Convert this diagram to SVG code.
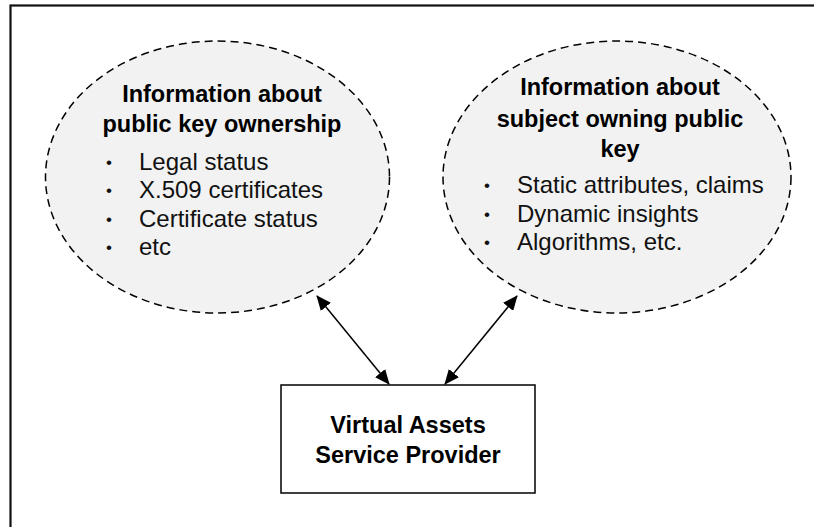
<svg xmlns="http://www.w3.org/2000/svg" width="814" height="527" viewBox="0 0 814 527">
<style>
.bold{font-family:"Liberation Sans",Arial,sans-serif;font-weight:bold;font-size:23.5px;fill:#000;text-anchor:middle}
.reg{font-family:"Liberation Sans",Arial,sans-serif;font-size:24px;fill:#111}
.bul{font-family:"Liberation Sans",Arial,sans-serif;font-size:17px;fill:#111}
.cloud{fill:#f2f2f2;stroke:#000;stroke-width:1.5;stroke-dasharray:8,5}
</style>
<defs>
<marker id="ah" viewBox="0 0 15 13" refX="14" refY="6.5" markerWidth="15" markerHeight="13" markerUnits="userSpaceOnUse" orient="auto-start-reverse">
<path d="M0,0 L15,6.5 L0,13 z" fill="#000"/>
</marker>
</defs>
<rect x="0" y="0" width="814" height="527" fill="#fff"/>
<rect id="frame" x="10.5" y="5.5" width="820" height="540" fill="none" stroke="#111" stroke-width="2.2"/>
<g id="ownership">
<ellipse class="cloud" cx="217.5" cy="177" rx="172" ry="136"/>
<text class="bold" x="222" y="102">Information about</text>
<text class="bold" x="222" y="132">public key ownership</text>
<text class="bul" x="106" y="168">•</text><text class="reg" x="139" y="170">Legal status</text>
<text class="bul" x="106" y="196">•</text><text class="reg" x="139" y="198">X.509 certificates</text>
<text class="bul" x="106" y="225">•</text><text class="reg" x="139" y="227">Certificate status</text>
<text class="bul" x="106" y="253">•</text><text class="reg" x="139" y="255">etc</text>
</g>
<g id="subject">
<ellipse class="cloud" cx="617" cy="177" rx="174" ry="136"/>
<text class="bold" x="620" y="95">Information about</text>
<text class="bold" x="620" y="127">subject owning public</text>
<text class="bold" x="620" y="157">key</text>
<text class="bul" x="484" y="191">•</text><text class="reg" x="517" y="193">Static attributes, claims</text>
<text class="bul" x="484" y="220">•</text><text class="reg" x="517" y="222">Dynamic insights</text>
<text class="bul" x="484" y="248">•</text><text class="reg" x="517" y="250">Algorithms, etc.</text>
</g>
<g id="vasp">
<rect x="281" y="385" width="254" height="108" fill="#fff" stroke="#000" stroke-width="1.5"/>
<text class="bold" x="408" y="433">Virtual Assets</text>
<text class="bold" x="408" y="463">Service Provider</text>
</g>
<g id="connectors" stroke="#000" stroke-width="1.5" fill="none">
<line x1="317" y1="296" x2="389" y2="384" marker-start="url(#ah)" marker-end="url(#ah)"/>
<line x1="517" y1="296" x2="445" y2="384" marker-start="url(#ah)" marker-end="url(#ah)"/>
</g>
</svg>
